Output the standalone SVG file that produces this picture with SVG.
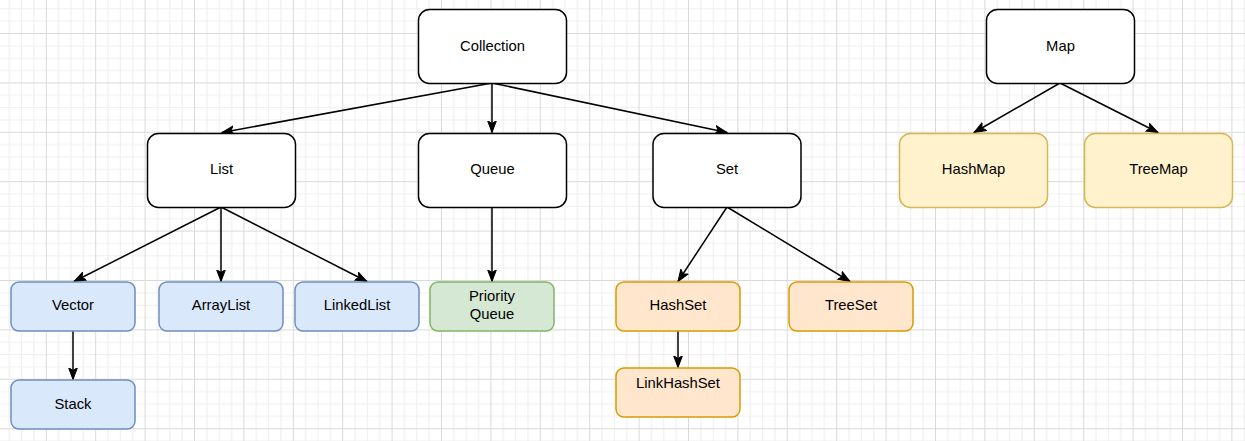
<svg xmlns="http://www.w3.org/2000/svg" width="1245" height="441" viewBox="0 0 1245 441">
<style>
text{font-family:"Liberation Sans",Arial,sans-serif;font-size:14.8px;fill:#000;text-anchor:middle;dominant-baseline:central}
.k rect{fill:#fff;stroke:#000;stroke-width:1.5}
.b rect{fill:#dae8fc;stroke:#6c8ebf;stroke-width:1.5}
.g rect{fill:#d5e8d4;stroke:#82b366;stroke-width:1.5}
.o rect{fill:#ffe6cc;stroke:#d79b00;stroke-width:1.5}
.y rect{fill:#fff2cc;stroke:#d6b656;stroke-width:1.5}
#edges line{stroke:#000;stroke-width:1.5;marker-end:url(#arr)}
</style>
<defs>
<pattern id="grid" patternUnits="userSpaceOnUse" x="45.8" y="33" width="49.4" height="49.4">
<path d="M12.85 0V49.4M25.2 0V49.4M37.55 0V49.4M0 12.85H49.4M0 25.2H49.4M0 37.55H49.4" stroke="#efefef" stroke-width="1.2" fill="none"/>
<path d="M0.5 0V49.4M0 0.5H49.4" stroke="#d9d9d9" stroke-width="1" fill="none"/>
</pattern>
<marker id="arr" markerUnits="userSpaceOnUse" markerWidth="14" markerHeight="12" viewBox="0 0 14 12" refX="12" refY="6" orient="auto">
<path d="M0,1.5 L12,6 L0,10.5 L3,6 z" fill="#000" stroke="#000" stroke-width="1"/>
</marker>
</defs>
<rect width="1245" height="441" fill="#fff"/>
<rect width="1245" height="441" fill="url(#grid)"/>
<g id="edges">
<line x1="492" y1="83" x2="222" y2="132.5"/>
<line x1="492" y1="83" x2="492" y2="132.5"/>
<line x1="492" y1="83" x2="727" y2="132.5"/>
<line x1="221" y1="207" x2="74" y2="281.5"/>
<line x1="221" y1="207" x2="221" y2="281.5"/>
<line x1="221" y1="207" x2="367" y2="281.5"/>
<line x1="492" y1="207" x2="492" y2="281.5"/>
<line x1="727" y1="207" x2="678" y2="281.5"/>
<line x1="727" y1="207" x2="850" y2="281.5"/>
<line x1="1060" y1="83" x2="974" y2="132.5"/>
<line x1="1060" y1="83" x2="1158" y2="132.5"/>
<line x1="73" y1="331" x2="73" y2="379.5"/>
<line x1="678" y1="331" x2="678" y2="367.5"/>
</g>
<g id="collection" class="k"><rect x="418.5" y="9.5" width="148" height="74" rx="11"/><text x="492.5" y="46">Collection</text></g>
<g id="map" class="k"><rect x="986.5" y="9.5" width="148" height="74" rx="11"/><text x="1060.5" y="46">Map</text></g>
<g id="list" class="k"><rect x="147.5" y="133.5" width="148" height="74" rx="11"/><text x="221.5" y="169">List</text></g>
<g id="queue" class="k"><rect x="418.5" y="133.5" width="148" height="74" rx="11"/><text x="492.5" y="169">Queue</text></g>
<g id="set" class="k"><rect x="653" y="133.5" width="148" height="74" rx="11"/><text x="727" y="169">Set</text></g>
<g id="hashmap" class="y"><rect x="899.5" y="133.5" width="148" height="74" rx="11"/><text x="973.5" y="169">HashMap</text></g>
<g id="treemap" class="y"><rect x="1084.5" y="133.5" width="148" height="74" rx="11"/><text x="1158.5" y="169">TreeMap</text></g>
<g id="vector" class="b"><rect x="11" y="282" width="124" height="49" rx="8"/><text x="73" y="305">Vector</text></g>
<g id="stack" class="b"><rect x="11" y="380" width="124" height="49" rx="8"/><text x="73" y="404">Stack</text></g>
<g id="arraylist" class="b"><rect x="159" y="282" width="124" height="49" rx="8"/><text x="221" y="305">ArrayList</text></g>
<g id="linkedlist" class="b"><rect x="295" y="282" width="124" height="49" rx="8"/><text x="357" y="305">LinkedList</text></g>
<g id="priorityqueue" class="g"><rect x="430" y="282" width="124" height="49" rx="8"/><text x="492" y="296">Priority</text><text x="492" y="314">Queue</text></g>
<g id="hashset" class="o"><rect x="616" y="282" width="124" height="49" rx="8"/><text x="678" y="305">HashSet</text></g>
<g id="linkhashset" class="o"><rect x="616" y="368" width="124" height="49" rx="8"/><text x="678" y="383">LinkHashSet</text></g>
<g id="treeset" class="o"><rect x="789" y="282" width="124" height="49" rx="8"/><text x="851" y="305">TreeSet</text></g>
</svg>
